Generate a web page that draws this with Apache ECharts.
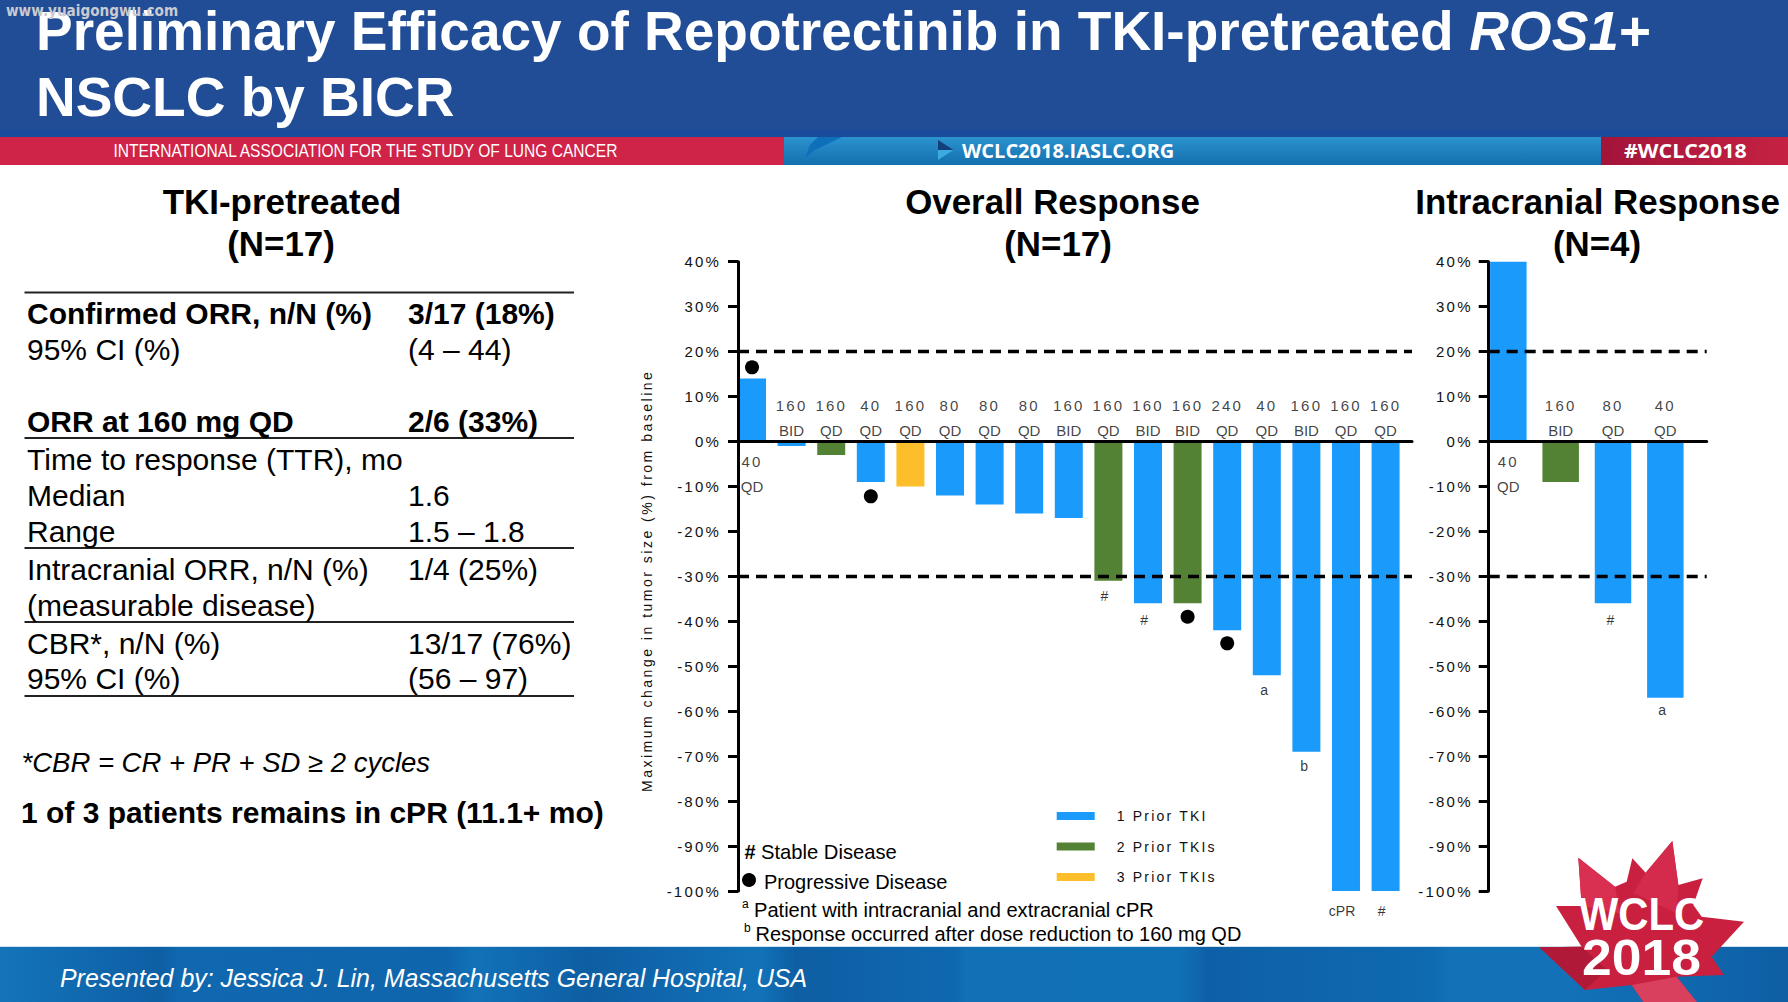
<!DOCTYPE html>
<html><head><meta charset="utf-8">
<style>
html,body{margin:0;padding:0;background:#fff}
#c{width:1788px;height:1002px}
text[style*="Arial"]{letter-spacing:2.2px}
text[style*="Helvetica"]{letter-spacing:2.5px}
</style>
<script src="https://cdn.jsdelivr.net/npm/echarts@6/dist/echarts.min.js"></script>
</head><body><div id="c"></div>
<script>
// ---- data ----
const overallPatient=[1,2,3,4,5,6,7,8,9,10,11,12,13,14,15,16,17];
const overallChange=[14,-1,-3,-9,-10,-12,-14,-16,-17,-31,-36,-36,-42,-52,-69,-100,-100];
const overallPriorTKIs=[1,1,2,1,3,1,1,1,1,2,1,2,1,1,1,1,1];
const overallDose=[40,160,160,40,160,80,80,80,160,160,160,160,240,40,160,160,160];
const overallFreq=['QD','BID','QD','QD','QD','QD','QD','QD','BID','QD','BID','BID','QD','QD','BID','QD','QD'];
const overallPD=[[1,16.5],[4,-12.2],[12,-39],[13,-44.9]];
const overallMarks=[[9.9,-34.3,'#'],[10.9,-39.8,'#'],[13.93,-55.3,'a'],[14.94,-72.3,'b'],[15.9,-104.4,'cPR'],[16.9,-104.4,'#']];
const icPatient=[1,2,3,4];
const icChange=[40,-9,-36,-57];
const icPriorTKIs=[1,2,1,1];
const icDose=[40,160,80,40];
const icFreq=['QD','BID','QD','QD'];
const icMarks=[[2.95,-39.8,'#'],[3.94,-59.7,'a']];
const tkiNames=['1 Prior TKI','2 Prior TKIs','3 Prior TKIs'];
const tkiColors=['#1a9bfc','#548235','#fdbe2c'];
const responseLines=[20,-30];
const tableRules=[292.5,438,548,622,696];
const tableRows=[
 ['Confirmed ORR, n/N (%)','3/17 (18%)',323.5,true],
 ['95% CI (%)','(4 \u2013 44)',360,false],
 ['ORR at 160 mg QD','2/6 (33%)',431.5,true],
 ['Time to response (TTR), mo','',470,false],
 ['Median','1.6',506,false],
 ['Range','1.5 \u2013 1.8',542,false],
 ['Intracranial ORR, n/N (%)','1/4 (25%)',580,false],
 ['(measurable disease)','',616,false],
 ['CBR*, n/N (%)','13/17 (76%)',653.5,false],
 ['95% CI (%)','(56 \u2013 97)',689,false]
];
// ---- helpers ----
const F='Liberation Sans';
function T(text,x,base,size,o){o=o||{};
 return {type:'text',x:x,y:base-0.3465*size,z:o.z||5,scaleX:o.sx||1,
  style:{text:text,fontFamily:o.font||F,fontSize:size,fontWeight:o.bold?'bold':'normal',fontStyle:o.italic?'italic':'normal',
   fill:o.fill||'#000',align:o.align||'left',verticalAlign:'middle',opacity:o.op==null?1:o.op,
   shadowBlur:o.shadow?3:0,shadowColor:o.shadow?'rgba(0,0,0,.7)':undefined,shadowOffsetY:o.shadow?2:0}};
}
function R(x,y,w,h,fill){return {type:'rect',shape:{x:x,y:y,width:w,height:h},style:{fill:fill},z:1};}
function P(pts,fill,z){return {type:'polygon',shape:{points:pts},style:{fill:fill},z:z||2};}
function lg(stops,v){return {type:'linear',x:0,y:0,x2:v?0:1,y2:v?1:0,colorStops:stops.map(s=>({offset:s[0],color:s[1]}))};}
function L(x,y){return [1400+x/3,660+y/3];}
// ---- page furniture ----
const g=[
 R(0,0,1788,130,'#214d96'),R(0,130,1788,7,'#1a4a9c'),
 R(0,137,784,28,'#cf2347'),
 R(784,137,817,28,lg([[0,'#2b93cf'],[1,'#146fae']],true)),
 R(1601,137,187,28,lg([[0,'#a3143a'],[1,'#c52242']],false)),
 P([[842,137],[818,137],[810,145],[805,158],[815,150]],'#0f6fbb',2),
 P([[938,140],[953.5,150],[938,150]],'#123f7c',3),P([[953.5,150],[938,150],[938,160]],'#3ca9df',3),
 R(0,946.5,1788,55.5,lg([[0,'#1474ba'],[.09,'#0e5fa4'],[.1,'#1068b0'],[.25,'#0f65ab'],[.265,'#1272b8'],[.33,'#0e5ea3'],[.425,'#1272b8'],[.445,'#0e5ea3'],[.535,'#0f69b0'],[.54,'#1170b6'],[.66,'#1171b6'],[.675,'#0e60a6'],[.8,'#0f6ab0'],[.81,'#1271b7'],[.88,'#1271b7'],[1,'#0e5fa4']],false)),
 R(0,946,1788,1,'#cfe0ee'),
 T('www.yuaigongwu.com',6,16,15.5,{bold:true,fill:'#c9cbd0',font:'DejaVu Sans',sx:.88,z:7}),
 {type:'text',x:36,y:50-.3465*56,z:5,scaleX:.982,style:{text:'Preliminary Efficacy of Repotrectinib in TKI-pretreated {i|ROS1}+',fontFamily:F,fontSize:56,fontWeight:'bold',fill:'#fff',verticalAlign:'middle',
   rich:{i:{fontFamily:F,fontSize:56,fontWeight:'bold',fontStyle:'italic',fill:'#fff'}}}},
 T('NSCLC by BICR',36,116,56,{bold:true,fill:'#fff',sx:.982}),
 T('INTERNATIONAL ASSOCIATION FOR THE STUDY OF LUNG CANCER',113.5,157,19,{fill:'#fff',sx:.819}),
 T('WCLC2018.IASLC.ORG',962,157.5,20,{bold:true,fill:'#fff',font:'Open Sans'}),
 T('#WCLC2018',1624,157.5,20,{bold:true,fill:'#fff',font:'Open Sans',sx:1.07}),
 T('TKI-pretreated',282,214,34.9,{bold:true,align:'center'}),
 T('(N=17)',281,256,34.9,{bold:true,align:'center'}),
 T('Overall Response',1052.5,214,34.9,{bold:true,align:'center'}),
 T('(N=17)',1058,256,34.9,{bold:true,align:'center'}),
 T('Intracranial Response',1597.5,214,34.9,{bold:true,align:'center'}),
 T('(N=4)',1597,256,34.9,{bold:true,align:'center'}),
 T('*CBR = CR + PR + SD \u2265 2 cycles',21.5,772.5,27.5,{italic:true}),
 T('1 of 3 patients remains in cPR (11.1+ mo)',21,823,30,{bold:true}),
 T('Presented by: Jessica J. Lin, Massachusetts General Hospital, USA',60,987,24.9,{italic:true,fill:'#fff'}),
 T('#',744.5,859,20,{bold:true}),
 T('Stable Disease',761,859,20.2),
 {type:'circle',shape:{cx:749,cy:880,r:7},style:{fill:'#000'},z:5},
 T('Progressive Disease',764,889,20),
 T('a',742,908,12),T('Patient with intracranial and extracranial cPR',754,917,20.1),
 T('b',744,932,12),T('Response occurred after dose reduction to 160 mg QD',755.5,941,20),
 // logo
 P([L(535,593),L(645,680),L(680,665),L(697,595),L(737,638),L(817,543),L(835,675),L(908,655),L(880,735),L(905,770),L(1032,785),L(935,890),L(972,945),L(830,950),L(890,1026),L(730,1026),L(695,975),L(555,990),L(418,862),L(545,860),L(468,738),L(545,738)],'#c9203f',6),
 P([L(535,593),L(645,680),L(660,760),L(545,738)],'#d93052',6),
 P([L(817,543),L(835,675),L(830,760),L(700,700),L(737,638)],'#d42a4b',6),
 P([L(418,862),L(545,860),L(620,930),L(555,990)],'#b01a38',6),
 P([L(695,975),L(830,950),L(890,1026),L(730,1026)],'#d8405e',6),
 T('WCLC',1641.5,930,46,{bold:true,fill:'#fff',align:'center',shadow:true,z:8,sx:.91}),
 T('2018',1641.5,975,50,{bold:true,fill:'#fff',align:'center',shadow:true,z:8,sx:1.07})
];
tableRules.forEach(y=>g.push(R(24.5,y-1,549.5,2,'#222')));
tableRows.forEach(r=>{g.push(T(r[0],27,r[2],30,{bold:r[3]}));if(r[1])g.push(T(r[1],408,r[2],30,{bold:r[3]}));});

// ---- chart pieces built from the arrays ----
function xAxis(i,min,max){return {type:'value',gridIndex:i,min:min,max:max,z:10,
  axisLine:{onZero:true,lineStyle:{color:'#000',width:3}},axisTick:{show:false},axisLabel:{show:false},splitLine:{show:false}};}
function yAxis(i,margin,extra){return Object.assign({type:'value',gridIndex:i,min:-100,max:40,interval:10,z:10,
  axisLine:{show:true,onZero:false,lineStyle:{color:'#000',width:3}},
  axisTick:{show:true,length:10,lineStyle:{color:'#000',width:3}},
  axisLabel:{formatter:'{value}%',margin:margin,fontFamily:'Arial',fontSize:15,color:'#111'},splitLine:{show:false}},extra||{});}
function barSeries(i,xs,ys,tk,level,width,withLines){
  const s={type:'bar',name:tkiNames[level-1],xAxisIndex:i,yAxisIndex:i,barWidth:width,barGap:'-100%',
   itemStyle:{color:tkiColors[level-1]},
   data:xs.map((x,k)=>[x,ys[k]]).filter((d,k)=>tk[k]===level)};
  if(withLines)s.markLine={silent:true,symbol:'none',z:6,label:{show:false},animation:false,
    lineStyle:{color:'#000',width:3.4,type:[11,7]},data:responseLines.map(v=>({yAxis:v}))};
  return s;
}
function textScatter(i,data,name){return {type:'scatter',name:name,xAxisIndex:i,yAxisIndex:i,symbolSize:1,clip:false,z:7,
  itemStyle:{color:'transparent'},data:data,
  label:{show:true,position:'inside',fontFamily:F,fontSize:14,color:'#000',formatter:p=>p.data[2],
   rich:{n:{fontFamily:'Arial',fontSize:15,color:'#111',lineHeight:25.7,align:'center'},
         f:{fontFamily:F,fontSize:15,color:'#111',lineHeight:25.7,align:'center'}}}};}
function doseData(xs,ys,dose,freq){return xs.map((x,k)=>[x,ys[k]>0?-7.2:5.2,'{n|'+dose[k]+'}\n{f|'+freq[k]+'}']);}

const chart=echarts.init(document.getElementById('c'),null,{renderer:'svg',width:1788,height:1002});
chart.setOption({
 animation:false,backgroundColor:'#fff',
 textStyle:{fontFamily:F},
 grid:[{left:738,top:261.7,width:674,height:629.3,containLabel:false},
       {left:1488.7,top:261.7,width:218,height:629.3,containLabel:false}],
 xAxis:[xAxis(0,.646,17.667),xAxis(1,.625,4.79)],
 yAxis:[yAxis(0,17,{name:'Maximum change in tumor size (%) from baseline',nameLocation:'middle',nameGap:84,
        nameRotate:90,nameTextStyle:{fontFamily:'Helvetica',fontSize:14,color:'#111',padding:[0,9,0,0]}}),yAxis(1,16)],
 legend:{show:true,orient:'vertical',left:1056.7,top:809,padding:0,itemWidth:38,itemHeight:8,itemGap:16.5,icon:'rect',selectedMode:false,
  data:tkiNames,textStyle:{fontFamily:'Arial',fontSize:14,color:'#111',padding:[5,0,0,17]}},
 graphic:{elements:g},
 series:[
  barSeries(0,overallPatient,overallChange,overallPriorTKIs,1,28,true),
  barSeries(0,overallPatient,overallChange,overallPriorTKIs,2,28),
  barSeries(0,overallPatient,overallChange,overallPriorTKIs,3,28),
  {type:'scatter',name:'Progressive Disease',xAxisIndex:0,yAxisIndex:0,symbolSize:14,z:7,itemStyle:{color:'#000',opacity:1},data:overallPD},
  textScatter(0,doseData(overallPatient,overallChange,overallDose,overallFreq),'Dose'),
  textScatter(0,overallMarks,'Notes'),
  barSeries(1,icPatient,icChange,icPriorTKIs,1,36.5,true),
  barSeries(1,icPatient,icChange,icPriorTKIs,2,36.5),
  textScatter(1,doseData(icPatient,icChange,icDose,icFreq),'IC dose'),
  textScatter(1,icMarks,'IC notes')
 ]
});
</script></body></html>
